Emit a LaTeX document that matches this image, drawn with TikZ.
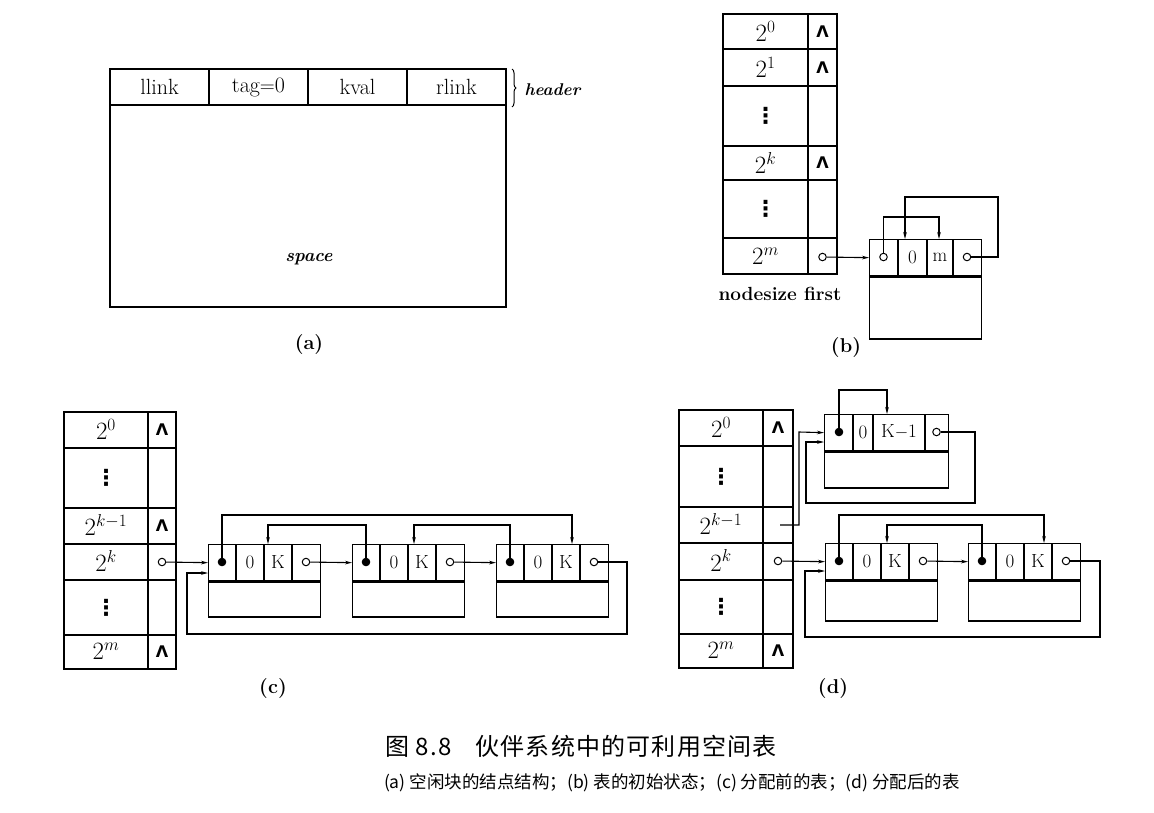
\documentclass[tikz,border=0pt]{standalone}
\usepackage{fontspec}
\usepackage{amsmath}
\usetikzlibrary{arrows.meta,calc,decorations.pathreplacing}
\newfontfamily\cjkfont{Noto Sans CJK SC}
\newfontfamily\nilfont{DejaVu Sans}
\newcommand{\figfont}{\fontsize{20}{24}\selectfont}
\newcommand{\cellfont}{\fontsize{19}{22}\selectfont}
\newcommand{\nil}{{\nilfont\bfseries\fontsize{16}{18}\selectfont Λ}}
\newcommand{\vdotsmark}{{\nilfont\bfseries\fontsize{22}{24}\selectfont ⋮}}
\tikzset{
  tableline/.style={line width=1.4pt},
  plainlink/.style={line width=1pt},
  linkline/.style={line width=1.1pt,-{Stealth[length=7pt,width=3.6pt]}},
  headbox/.style={draw,line width=1.3pt,anchor=north west,minimum width=112pt,
    minimum height=36pt,inner sep=0pt},
  bodybox/.style={draw,line width=1.3pt,anchor=north west,minimum width=112pt,
    inner sep=0pt},
  ptr/.style={circle,draw,line width=1pt,fill=white,inner sep=0pt,minimum size=7.5pt,
    path picture={\fill (path picture bounding box.center) circle (1.6pt);}},
  ptrfull/.style={ptr,fill=black},
  cell/.style={inner sep=0pt,font=\cellfont},
  sizelabel/.style={font=\fontsize{23}{26}\selectfont},
  sublabel/.style={font=\figfont\bfseries}
}
\begin{document}
\begin{tikzpicture}[x=1pt,y=-1pt,font=\figfont]
\path[use as bounding box] (0,0) rectangle (1154,812);

% (a) layout of a free block
\draw[tableline] (110,69) rectangle (506,307);
\draw[tableline] (110,105) -- (506,105) (209,69) -- (209,105)
  (308,69) -- (308,105) (407,69) -- (407,105);
\node[font=\fontsize{22}{26}\selectfont] (a-llink) at (159.5,87) {llink};
\node[font=\fontsize{22}{26}\selectfont] (a-tag) at (258.5,87) {tag$=$0};
\node[font=\fontsize{22}{26}\selectfont] (a-kval) at (357.5,87) {kval};
\node[font=\fontsize{22}{26}\selectfont] (a-rlink) at (456.5,87) {rlink};
\draw[plainlink,decorate,decoration={brace,amplitude=4pt}] (512,69) -- (512,107);
\node[anchor=west,font=\fontsize{17}{20}\selectfont\bfseries\itshape] (a-header)
  at (521,90) {header};
\node[font=\fontsize{18}{22}\selectfont\bfseries\itshape] (a-space) at (309,259) {space};
\node[sublabel] (a-cap) at (309,345) {(a)};

% (b) initial state of the table
\draw[tableline] (723,14) rectangle (837,274);
\draw[tableline] (808,14) -- (808,274) (723,49) -- (837,49) (723,86) -- (837,86)
  (723,146) -- (837,146) (723,180) -- (837,180) (723,238) -- (837,238);
\node[sizelabel] (b-r0) at (765.5,31.5) {$2^{0}$};
\node (b-n0) at (822.5,31.5) {\nil};
\node[sizelabel] (b-r1) at (765.5,67.5) {$2^{1}$};
\node (b-n1) at (822.5,67.5) {\nil};
\node (b-r2) at (765.5,116) {\vdotsmark};
\node[sizelabel] (b-rk) at (765.5,163) {$2^{k}$};
\node (b-nk) at (822.5,163) {\nil};
\node (b-r4) at (765.5,209) {\vdotsmark};
\node[sizelabel] (b-rm) at (765.5,256) {$2^{m}$};
\node[ptr] (b-first) at (822.5,257) {};
\node[anchor=west,font=\fontsize{19}{22}\selectfont\bfseries] (b-nodesize)
  at (715,294) {nodesize};
\node[anchor=east,font=\fontsize{19}{22}\selectfont\bfseries] (b-firstlbl)
  at (845,294) {first};

\node[headbox] (b-head) at (869,239) {};
\node[bodybox,minimum height=62pt] (b-body) at (b-head.south west) {};
\draw[tableline] (898,239) -- (898,275) (927,239) -- (927,275) (953,239) -- (953,275);
\node[ptr] (b-l) at (883.5,257) {};
\node[cell] (b-tag) at (912.5,257) {0};
\node[cell] (b-kval) at (940,257) {m};
\node[ptr] (b-r) at (967,257) {};
\coordinate (b-in0) at (905,239);
\coordinate (b-in1) at (939,239);
\draw[linkline] (b-first) -- (b-head.west);
\draw[linkline] (b-r) -| (998,197) -| (b-in0);
\draw[linkline] (b-l) |- (939,217) -- (b-in1);
\node[sublabel] (b-cap) at (846,348) {(b)};

% (c) before allocation: three blocks of size 2^k
\draw[tableline] (64,412) rectangle (176,669);
\draw[tableline] (148,412) -- (148,669) (64,448) -- (176,448) (64,508) -- (176,508)
  (64,544) -- (176,544) (64,580) -- (176,580) (64,635) -- (176,635);
\node[sizelabel] (c-r0) at (106,429) {$2^{0}$};
\node (c-n0) at (162,430) {\nil};
\node (c-r1) at (106,478) {\vdotsmark};
\node[sizelabel] (c-rkm) at (106,525) {$2^{k-1}$};
\node (c-nkm) at (162,526) {\nil};
\node[sizelabel] (c-rk) at (106,561) {$2^{k}$};
\node[ptr] (c-first) at (162,562) {};
\node (c-r4) at (106,607.5) {\vdotsmark};
\node[sizelabel] (c-rm) at (106,651) {$2^{m}$};
\node (c-nm) at (162,652) {\nil};

\node[headbox] (c1-head) at (208,544) {};
\node[bodybox,minimum height=35pt] (c1-body) at (c1-head.south west) {};
\draw[tableline] (236,544) -- (236,580) (264,544) -- (264,580) (292,544) -- (292,580);
\node[ptrfull] (c1-l) at (222,562) {};
\node[cell] (c1-tag) at (250,562) {0};
\node[cell] (c1-kval) at (278,562) {K};
\node[ptr] (c1-r) at (306,562) {};

\node[headbox] (c2-head) at (352,544) {};
\node[bodybox,minimum height=35pt] (c2-body) at (c2-head.south west) {};
\draw[tableline] (380,544) -- (380,580) (408,544) -- (408,580) (436,544) -- (436,580);
\node[ptrfull] (c2-l) at (366,562) {};
\node[cell] (c2-tag) at (394,562) {0};
\node[cell] (c2-kval) at (422,562) {K};
\node[ptr] (c2-r) at (450,562) {};

\node[headbox] (c3-head) at (496,544) {};
\node[bodybox,minimum height=35pt] (c3-body) at (c3-head.south west) {};
\draw[tableline] (524,544) -- (524,580) (552,544) -- (552,580) (580,544) -- (580,580);
\node[ptrfull] (c3-l) at (510,562) {};
\node[cell] (c3-tag) at (538,562) {0};
\node[cell] (c3-kval) at (566,562) {K};
\node[ptr] (c3-r) at (594,562) {};

\coordinate (c1-in) at (268,544);
\coordinate (c2-in) at (414,544);
\coordinate (c3-in) at (572,544);
\coordinate (c1-ret) at (208,573);
\draw[linkline] (c-first) -- (c1-head.west);
\draw[linkline] (c1-r) -- (c2-head.west);
\draw[linkline] (c2-r) -- (c3-head.west);
\draw[linkline] (c3-r) -| (627,634) -| (187,573) -- (c1-ret);
\draw[linkline] (c1-l) |- (572,515) -- (c3-in);
\draw[linkline] (c2-l) |- (268,525) -- (c1-in);
\draw[linkline] (c3-l) |- (414,525) -- (c2-in);
\node[sublabel] (c-cap) at (273,688) {(c)};

% (d) after allocation: one block split into two halves
\draw[tableline] (679,410) rectangle (793,668);
\draw[tableline] (763,410) -- (763,668) (679,446) -- (793,446) (679,507) -- (793,507)
  (679,543) -- (793,543) (679,580) -- (793,580) (679,634) -- (793,634);
\node[sizelabel] (d-r0) at (721,427) {$2^{0}$};
\node (d-n0) at (778,428) {\nil};
\node (d-r1) at (721,476.5) {\vdotsmark};
\node[sizelabel] (d-rkm) at (721,524) {$2^{k-1}$};
\node[sizelabel] (d-rk) at (721,560.5) {$2^{k}$};
\node[ptr] (d-first) at (778,561) {};
\node (d-r4) at (721,607) {\vdotsmark};
\node[sizelabel] (d-rm) at (721,650) {$2^{m}$};
\node (d-nm) at (778,651) {\nil};
\coordinate (d-km1) at (780,525);

\node[headbox,minimum width=124pt] (d0-head) at (824,414) {};
\node[bodybox,minimum width=124pt,minimum height=36pt] (d0-body) at (d0-head.south west) {};
\draw[tableline] (853,414) -- (853,450) (873,414) -- (873,450) (925,414) -- (925,450);
\node[ptrfull] (d0-l) at (839,432) {};
\node[cell] (d0-tag) at (863,432) {0};
\node[cell] (d0-kval) at (899,432) {K$-$1};
\node[ptr] (d0-r) at (936.5,432) {};

\node[headbox] (dA-head) at (825,543) {};
\node[bodybox,minimum height=40pt] (dA-body) at (dA-head.south west) {};
\draw[tableline] (853,543) -- (853,579) (881,543) -- (881,579) (909,543) -- (909,579);
\node[ptrfull] (dA-l) at (839,561) {};
\node[cell] (dA-tag) at (867,561) {0};
\node[cell] (dA-kval) at (895,561) {K};
\node[ptr] (dA-r) at (923,561) {};

\node[headbox] (dB-head) at (968,543) {};
\node[bodybox,minimum height=40pt] (dB-body) at (dB-head.south west) {};
\draw[tableline] (996,543) -- (996,579) (1024,543) -- (1024,579) (1052,543) -- (1052,579);
\node[ptrfull] (dB-l) at (982,561) {};
\node[cell] (dB-tag) at (1010,561) {0};
\node[cell] (dB-kval) at (1038,561) {K};
\node[ptr] (dB-r) at (1066,561) {};

\coordinate (d0-in) at (887,414);
\coordinate (d0-ret) at (824,442);
\coordinate (dA-in) at (887,543);
\coordinate (dB-in) at (1044,543);
\coordinate (dA-ret) at (825,571);
\draw[linkline] (d-km1) -| (799,432) -- (d0-head.west);
\draw[linkline] (d0-r) -| (975,503) -| (806,442) -- (d0-ret);
\draw[linkline] (d0-l) |- (887,390) -- (d0-in);
\draw[linkline] (d-first) -- (dA-head.west);
\draw[linkline] (dA-r) -- (dB-head.west);
\draw[linkline] (dB-r) -| (1100,637) -| (805,571) -- (dA-ret);
\draw[linkline] (dA-l) |- (1044,515) -- (dB-in);
\draw[linkline] (dB-l) |- (887,525) -- (dA-in);
\node[sublabel] (d-cap) at (833,688) {(d)};

% caption
\node[font=\cjkfont\fontsize{24}{28}\selectfont\addfontfeatures{LetterSpace=5}]
  (cap-title) at (581,746) {图 8.8\quad 伙伴系统中的可利用空间表};
\node[font=\cjkfont\fontsize{17.5}{21}\selectfont] (cap-sub) at (672,783)
  {(a) 空闲块的结点结构；(b) 表的初始状态；(c) 分配前的表；(d) 分配后的表};
\end{tikzpicture}
\end{document}
